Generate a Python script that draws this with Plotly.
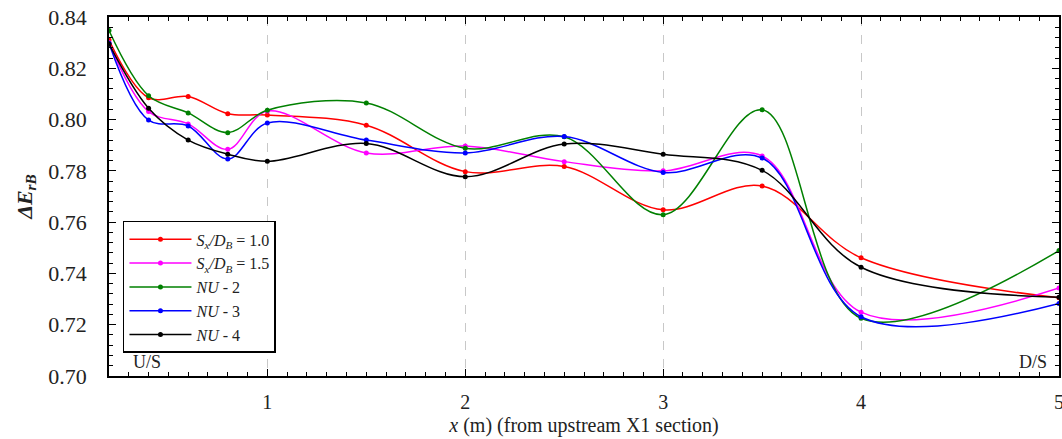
import plotly.graph_objects as go

x = [0.2, 0.4, 0.6, 0.8, 1.0, 1.5, 2.0, 2.5, 3.0, 3.5, 4.0, 5.0]

sx10 = [0.8310, 0.8085, 0.8090, 0.8023, 0.8018, 0.7978, 0.7797, 0.7817, 0.7648, 0.7741, 0.7461, 0.7305]
sx15 = [0.8300, 0.8031, 0.7983, 0.7884, 0.8033, 0.7870, 0.7897, 0.7836, 0.7800, 0.7858, 0.7249, 0.7343]
nu2 = [0.8347, 0.8093, 0.8026, 0.7949, 0.8036, 0.8065, 0.7888, 0.7933, 0.7629, 0.8038, 0.7225, 0.7489]
nu3 = [0.8298, 0.7998, 0.7975, 0.7846, 0.7987, 0.7920, 0.7870, 0.7934, 0.7794, 0.7850, 0.7231, 0.7283]
nu4 = [0.8295, 0.8044, 0.7920, 0.7865, 0.7837, 0.7907, 0.7777, 0.7905, 0.7865, 0.7802, 0.7424, 0.7307]

names = [
    "<i>S<sub>x</sub>/D<sub>B</sub></i> = 1.0",
    "<i>S<sub>x</sub>/D<sub>B</sub></i> = 1.5",
    "<i>NU</i> - 2",
    "<i>NU</i> - 3",
    "<i>NU</i> - 4",
]
series = [sx10, sx15, nu2, nu3, nu4]
colors = ["#ff0000", "#ff00ff", "#008000", "#0000ff", "#000000"]

FONT = "Liberation Serif"

fig = go.Figure()
for name, ys, c in zip(names, series, colors):
    fig.add_trace(go.Scatter(
        x=x, y=ys, name=name, mode="lines+markers",
        line=dict(color=c, width=1.5, shape="spline", smoothing=1.0),
        marker=dict(color=c, size=5),
    ))

fig.update_layout(
    width=1062, height=439,
    margin=dict(l=109, r=3, t=17, b=63, autoexpand=False),
    plot_bgcolor="white", paper_bgcolor="white",
    font=dict(family=FONT, size=19, color="#222"),
    showlegend=True,
    legend=dict(
        x=0.0147, y=0.432, xanchor="left", yanchor="top",
        bgcolor="white", bordercolor="black", borderwidth=1.5,
        font=dict(family=FONT, size=16, color="#222"),
        tracegroupgap=0, itemwidth=62,
    ),
    xaxis=dict(
        range=[0.2, 5.0], tickvals=[1, 2, 3, 4, 5],
        showline=True, linecolor="black", linewidth=1.5, mirror="allticks",
        ticks="inside", ticklen=7, tickcolor="black",
        showgrid=True, gridcolor="#c8c8c8", griddash="dash", gridwidth=1.2,
        zeroline=False,
        minor=dict(dtick=0.1, tick0=0, ticks="inside", ticklen=4, tickcolor="black", showgrid=False),
        title=dict(text="<i>x</i> (m) (from upstream X1 section)", font=dict(size=20), standoff=6),
        tickfont=dict(size=20),
        ticklabelstandoff=7,
        ticklabeloverflow="allow",
    ),
    yaxis=dict(
        range=[0.70, 0.84], dtick=0.02, tick0=0.70, tickformat=".2f",
        showline=True, linecolor="black", linewidth=1.5, mirror="allticks",
        ticks="inside", ticklen=7, tickcolor="black",
        showgrid=False, zeroline=False,
        minor=dict(dtick=0.004, tick0=0.70, ticks="inside", ticklen=4, tickcolor="black", showgrid=False),
        title=dict(text="<b><i>ΔE<sub>rB</sub></i></b>", font=dict(size=22), standoff=10),
        tickfont=dict(size=22),
        ticklabelstandoff=16,
        ticklabeloverflow="allow",
    ),
    annotations=[
        dict(text="U/S", x=0.31, y=0.7008, xref="x", yref="y", showarrow=False,
             xanchor="left", yanchor="bottom", font=dict(family=FONT, size=18, color="#222")),
        dict(text="D/S", x=4.95, y=0.7008, xref="x", yref="y", showarrow=False,
             xanchor="right", yanchor="bottom", font=dict(family=FONT, size=18, color="#222")),
    ],
)

fig.write_html("out.html")
